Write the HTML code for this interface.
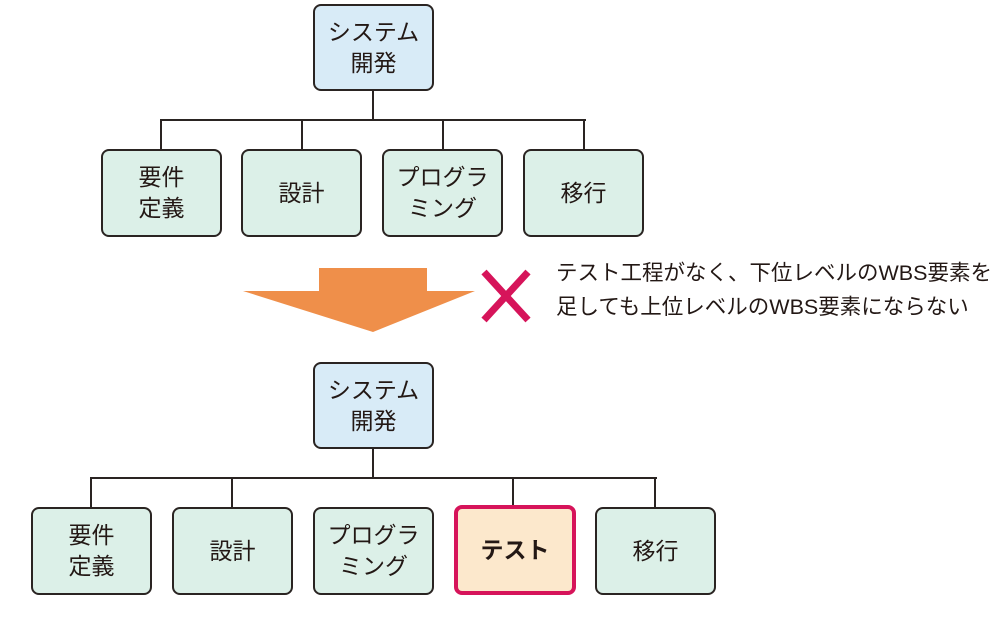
<!DOCTYPE html>
<html><head><meta charset="utf-8"><style>
body{margin:0;width:1000px;height:629px;background:#fff;position:relative;overflow:hidden;font-family:"Liberation Sans","Noto Sans CJK JP",sans-serif;}
.b{position:absolute;box-sizing:border-box;border:2px solid #2a2422;border-radius:8px;background:#dcf0e8;display:flex;align-items:center;justify-content:center;text-align:center;font-size:23px;line-height:31px;color:#231815;}
.t{background:#d8ebf7;}
.l{position:absolute;background:#2a2422;}
</style></head><body>
<div class="l" style="left:372px;top:90px;width:2px;height:31px"></div>
<div class="l" style="left:160px;top:119px;width:426px;height:2px"></div>
<div class="l" style="left:160px;top:119px;width:2px;height:31px"></div>
<div class="l" style="left:301px;top:119px;width:2px;height:31px"></div>
<div class="l" style="left:442px;top:119px;width:2px;height:31px"></div>
<div class="l" style="left:583px;top:119px;width:2px;height:31px"></div>
<div class="b t" style="left:313px;top:4px;width:121px;height:87px">システム<br>開発</div>
<div class="b" style="left:101px;top:149px;width:121px;height:88px">要件<br>定義</div>
<div class="b" style="left:241px;top:149px;width:121px;height:88px">設計</div>
<div class="b" style="left:382px;top:149px;width:121px;height:88px">プログラ<br>ミング</div>
<div class="b" style="left:523px;top:149px;width:121px;height:88px">移行</div>

<svg style="position:absolute;left:0;top:0" width="1000" height="629">
<polygon points="319,268 427,268 427,291 475,291 373,332 243,291 319,291" fill="#ef8f4a"/>
<line x1="484" y1="272" x2="528" y2="320" stroke="#d6145a" stroke-width="7"/>
<line x1="528" y1="272" x2="484" y2="320" stroke="#d6145a" stroke-width="7"/>
</svg>
<div style="position:absolute;left:556px;top:256px;font-size:21.5px;line-height:34px;color:#231815;white-space:nowrap">テスト工程がなく、下位レベルのWBS要素を<br>足しても上位レベルのWBS要素にならない</div>

<div class="l" style="left:372px;top:448px;width:2px;height:31px"></div>
<div class="l" style="left:90px;top:477px;width:567px;height:2px"></div>
<div class="l" style="left:90px;top:477px;width:2px;height:31px"></div>
<div class="l" style="left:231px;top:477px;width:2px;height:31px"></div>
<div class="l" style="left:512px;top:477px;width:2px;height:31px"></div>
<div class="l" style="left:654px;top:477px;width:2px;height:31px"></div>
<div class="b t" style="left:313px;top:362px;width:121px;height:87px">システム<br>開発</div>
<div class="b" style="left:31px;top:507px;width:121px;height:88px">要件<br>定義</div>
<div class="b" style="left:172px;top:507px;width:121px;height:88px">設計</div>
<div class="b" style="left:313px;top:507px;width:121px;height:88px">プログラ<br>ミング</div>
<div class="b" style="left:454px;top:505px;width:122px;height:90px;background:#fce8cc;border:4px solid #d6145a;font-weight:bold">テスト</div>
<div class="b" style="left:595px;top:507px;width:121px;height:88px">移行</div>
</body></html>
